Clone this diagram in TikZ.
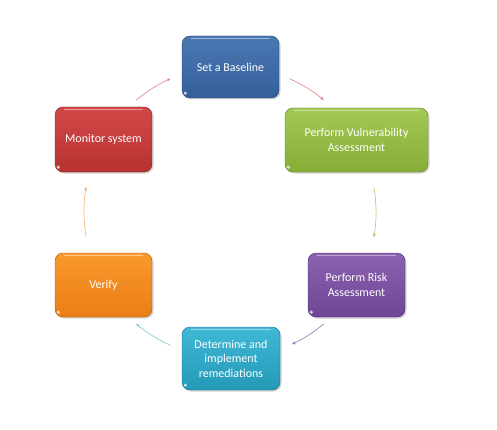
\documentclass[tikz,border=0pt]{standalone}
\usepackage{fontspec}
\setmainfont{Carlito}
\usetikzlibrary{arrows.meta,shadows,calc}
\definecolor{cBase}{HTML}{34609A}
\definecolor{cBaseT}{HTML}{4A78B2}
\definecolor{cVul}{HTML}{86AE36}
\definecolor{cVulT}{HTML}{A2C955}
\definecolor{cRisk}{HTML}{6F4596}
\definecolor{cRiskT}{HTML}{8A63B0}
\definecolor{cDet}{HTML}{2499B8}
\definecolor{cDetT}{HTML}{3FB8D6}
\definecolor{cVer}{HTML}{EB7D14}
\definecolor{cVerT}{HTML}{F9992E}
\definecolor{cMon}{HTML}{B83232}
\definecolor{cMonT}{HTML}{D24848}
\tikzset{
  box/.style n args={2}{draw=#1!70!black, line width=0.4pt, rounded corners=8pt,
    top color=#2, bottom color=#1, text=white, align=center,
    font=\fontsize{12}{14.5}\selectfont, inner sep=2pt,
    drop shadow={opacity=0.35, shadow xshift=1.5pt, shadow yshift=-1.5pt}},
  link/.style={line width=0.6pt, -{Stealth[length=4pt,width=3pt]}}
}
\begin{document}
\begin{tikzpicture}[x=1pt,y=1pt]
\useasboundingbox (0,0) rectangle (497,429);
\node[box={cBase}{cBaseT}, minimum width=97pt, minimum height=62pt] (base) at (230.5,362) {Set a Baseline};
\node[box={cVul}{cVulT}, minimum width=143pt, minimum height=64pt] (vul) at (356.5,289) {Perform Vulnerability\\Assessment};
\node[box={cRisk}{cRiskT}, minimum width=97pt, minimum height=64pt] (risk) at (356.5,144) {Perform Risk\\Assessment};
\node[box={cDet}{cDetT}, minimum width=98pt, minimum height=63pt] (det) at (231,70.5) {Determine and\\implement\\remediations};
\node[box={cVer}{cVerT}, minimum width=97pt, minimum height=64pt] (ver) at (103.5,144) {Verify};
\node[box={cMon}{cMonT}, minimum width=97pt, minimum height=65pt] (mon) at (103.5,289.5) {Monitor system};
% highlight lines
\foreach \n in {base,vul,risk,det,ver,mon}{
  \draw[white, opacity=0.45, line width=0.8pt] ([xshift=9pt,yshift=-3pt]\n.north west) -- ([xshift=-9pt,yshift=-3pt]\n.north east);
  \fill[white, opacity=0.7] ([xshift=3.5pt,yshift=5pt]\n.south west) circle (1.8pt);
}
\coordinate (c) at (230,217);
\coordinate (a1) at ($(c)+(66:146)$);
\coordinate (a2) at ($(c)+(10:146)$);
\coordinate (a3) at ($(c)+(-50:146)$);
\coordinate (a4) at ($(c)+(-114:146)$);
\coordinate (a5) at ($(c)+(190:146)$);
\coordinate (a6) at ($(c)+(130:146)$);
\draw[link, color=cMonT!70!white] (a1) arc[start angle=66, end angle=50, radius=146];
\draw[link, color=cVul!70!white] (a2) arc[start angle=10, end angle=-10, radius=146];
\draw[link, color=cRisk!75!white] (a3) arc[start angle=-50, end angle=-65, radius=146];
\draw[link, color=cDet!60!white] (a4) arc[start angle=-114, end angle=-130, radius=146];
\draw[link, color=cVer!60!white] (a5) arc[start angle=190, end angle=170, radius=146];
\draw[link, color=cMonT!70!white] (a6) arc[start angle=130, end angle=114, radius=146];
\end{tikzpicture}
\end{document}
